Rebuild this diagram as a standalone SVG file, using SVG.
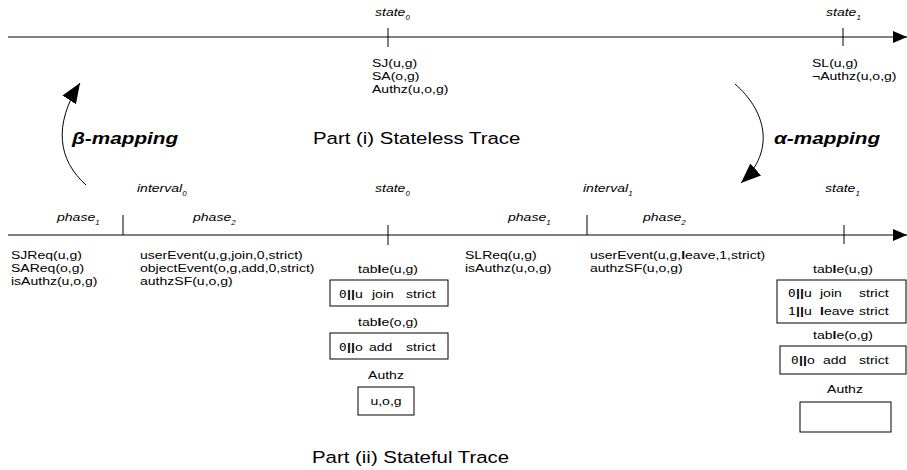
<svg xmlns="http://www.w3.org/2000/svg" width="907" height="470" viewBox="0 0 907 470">
<defs>
<style>
text{font-family:"Liberation Sans",Arial,sans-serif;fill:#000}
.t{font-size:11.5px}
.lbl{font-size:11.5px;font-style:italic}
.sub{font-size:6.5px;font-style:italic}
.map{font-size:17px;font-style:italic;font-weight:bold}
.part{font-size:17px}
.ln{stroke:#000;stroke-width:1;fill:none}
.box{stroke:#000;stroke-width:1;fill:#fff}
.b{font-weight:bold}
.z{font-family:"DejaVu Sans Mono",monospace;font-size:11px}
.m{text-anchor:middle}
</style>
<marker id="ah" viewBox="0 0 14 12" refX="14" refY="6" markerWidth="14" markerHeight="12" markerUnits="userSpaceOnUse" orient="auto">
<path d="M0,0 L14,6 L0,12 Z" fill="#000"/>
</marker>
<marker id="bh" viewBox="0 0 20 18" refX="20" refY="9" markerWidth="20" markerHeight="18" markerUnits="userSpaceOnUse" orient="auto">
<path d="M0,1 L20,9 L0,17 Z" fill="#000"/>
</marker>
</defs>
<g id="connectors">
<line class="ln" x1="8" y1="37" x2="907" y2="37" marker-end="url(#ah)"/>
<line class="ln" x1="388" y1="28" x2="388" y2="47"/>
<line class="ln" x1="843" y1="28" x2="843" y2="46"/>
<line class="ln" x1="8" y1="235" x2="907" y2="235" marker-end="url(#ah)"/>
<line class="ln" x1="123" y1="215" x2="123" y2="235"/>
<line class="ln" x1="388" y1="225" x2="388" y2="245"/>
<line class="ln" x1="587" y1="215" x2="587" y2="235"/>
<line class="ln" x1="844" y1="225" x2="844" y2="244"/>
<path class="ln" d="M86,185 C58,160 53,125 80,83" marker-end="url(#bh)"/>
<path class="ln" d="M735,84 C765,110 777,150 741,183" marker-end="url(#bh)"/>
</g>
<g id="stateless">
<text class="lbl" transform="translate(375,16) scale(1.22,1)">state<tspan class="sub" dy="4">0</tspan></text>
<text class="lbl" transform="translate(826,16) scale(1.22,1)">state<tspan class="sub" dy="4">1</tspan></text>
<g transform="translate(372,0) scale(1.22,1)">
<text class="t" x="0" y="67">SJ(u,g)</text>
<text class="t" x="0" y="80">SA(o,g)</text>
<text class="t" x="0" y="93">Authz(u,o,g)</text>
</g>
<g transform="translate(812,0) scale(1.22,1)">
<text class="t" x="0" y="67">SL(u,g)</text>
<text class="t" x="0" y="80">¬Authz(u,o,g)</text>
</g>
<text class="part" transform="translate(313,144) scale(1.2,1)">Part (i) Stateless Trace</text>
</g>
<g id="beta">
<text class="map" transform="translate(72,144) scale(1.22,1)">β-mapping</text>
</g>
<g id="alpha">
<text class="map" transform="translate(774,144) scale(1.22,1)">α-mapping</text>
</g>
<g id="stateful">
<text class="lbl" transform="translate(137,192) scale(1.22,1)">interval<tspan class="sub" dy="4">0</tspan></text>
<text class="lbl" transform="translate(375,192) scale(1.22,1)">state<tspan class="sub" dy="4">0</tspan></text>
<text class="lbl" transform="translate(583,192) scale(1.22,1)">interval<tspan class="sub" dy="4">1</tspan></text>
<text class="lbl" transform="translate(825,192) scale(1.22,1)">state<tspan class="sub" dy="4">1</tspan></text>
<text class="lbl" transform="translate(57,221) scale(1.22,1)">phase<tspan class="sub" dy="4">1</tspan></text>
<text class="lbl" transform="translate(193,221) scale(1.22,1)">phase<tspan class="sub" dy="4">2</tspan></text>
<text class="lbl" transform="translate(508,221) scale(1.22,1)">phase<tspan class="sub" dy="4">1</tspan></text>
<text class="lbl" transform="translate(643,221) scale(1.22,1)">phase<tspan class="sub" dy="4">2</tspan></text>
<g transform="translate(11,0) scale(1.22,1)">
<text class="t" x="0" y="259">SJReq(u,g)</text>
<text class="t" x="0" y="272">SAReq(o,g)</text>
<text class="t" x="0" y="285">isAuthz(u,o,g)</text>
</g>
<g transform="translate(140,0) scale(1.22,1)">
<text class="t" x="0" y="259">userEvent(u,g,join,0,strict)</text>
<text class="t" x="0" y="272">objectEvent(o,g,add,0,strict)</text>
<text class="t" x="0" y="285">authzSF(u,o,g)</text>
</g>
<g transform="translate(465,0) scale(1.22,1)">
<text class="t" x="0" y="259">SLReq(u,g)</text>
<text class="t" x="0" y="272">isAuthz(u,o,g)</text>
</g>
<g transform="translate(590,0) scale(1.22,1)">
<text class="t" x="0" y="259">userEvent(u,g,<tspan class="b">l</tspan>eave,1,strict)</text>
<text class="t" x="0" y="272">authzSF(u,o,g)</text>
</g>
<text class="part" transform="translate(312,463) scale(1.2,1)">Part (ii) Stateful Trace</text>
</g>
<g id="state0-tables">
<text class="t m" transform="translate(388,273) scale(1.22,1)">tab<tspan class="b">l</tspan>e(u,g)</text>
<rect class="box" x="330" y="280" width="118" height="26"/>
<text class="z" transform="translate(339,298) scale(1.15,1)">0</text>
<text class="t b" transform="translate(347,298) scale(1.22,1)">||</text>
<text class="t" transform="translate(355,298) scale(1.22,1)">u</text>
<text class="t" transform="translate(372,298) scale(1.22,1)">join</text>
<text class="t" transform="translate(406,298) scale(1.22,1)">strict</text>
<text class="t m" transform="translate(388,326) scale(1.22,1)">tab<tspan class="b">l</tspan>e(o,g)</text>
<rect class="box" x="330" y="333" width="118" height="26"/>
<text class="z" transform="translate(339,351) scale(1.15,1)">0</text>
<text class="t b" transform="translate(347,351) scale(1.22,1)">||</text>
<text class="t" transform="translate(355,351) scale(1.22,1)">o</text>
<text class="t" transform="translate(369,351) scale(1.22,1)">add</text>
<text class="t" transform="translate(406,351) scale(1.22,1)">strict</text>
<text class="t m" transform="translate(386,379) scale(1.22,1)">Authz</text>
<rect class="box" x="358" y="387" width="56" height="28"/>
<text class="t m" transform="translate(386,405) scale(1.22,1)">u,o,g</text>
</g>
<g id="state1-tables">
<text class="t m" transform="translate(843,273) scale(1.22,1)">tab<tspan class="b">l</tspan>e(u,g)</text>
<rect class="box" x="777" y="280" width="129" height="43"/>
<text class="z" transform="translate(788,297) scale(1.15,1)">0</text>
<text class="t b" transform="translate(796,297) scale(1.22,1)">||</text>
<text class="t" transform="translate(804,297) scale(1.22,1)">u</text>
<text class="t" transform="translate(820,297) scale(1.22,1)">join</text>
<text class="t" transform="translate(859,297) scale(1.22,1)">strict</text>
<text class="t" transform="translate(788,315) scale(1.22,1)">1</text>
<text class="t b" transform="translate(796,315) scale(1.22,1)">||</text>
<text class="t" transform="translate(804,315) scale(1.22,1)">u</text>
<text class="t" transform="translate(820,315) scale(1.22,1)"><tspan class="b">l</tspan>eave</text>
<text class="t" transform="translate(859,315) scale(1.22,1)">strict</text>
<text class="t m" transform="translate(843,339) scale(1.22,1)">tab<tspan class="b">l</tspan>e(o,g)</text>
<rect class="box" x="780" y="346" width="126" height="28"/>
<text class="z" transform="translate(791,364) scale(1.15,1)">0</text>
<text class="t b" transform="translate(799,364) scale(1.22,1)">||</text>
<text class="t" transform="translate(807,364) scale(1.22,1)">o</text>
<text class="t" transform="translate(823,364) scale(1.22,1)">add</text>
<text class="t" transform="translate(859,364) scale(1.22,1)">strict</text>
<text class="t m" transform="translate(845,393) scale(1.22,1)">Authz</text>
<rect class="box" x="800" y="402" width="91" height="30"/>
</g>
</svg>
